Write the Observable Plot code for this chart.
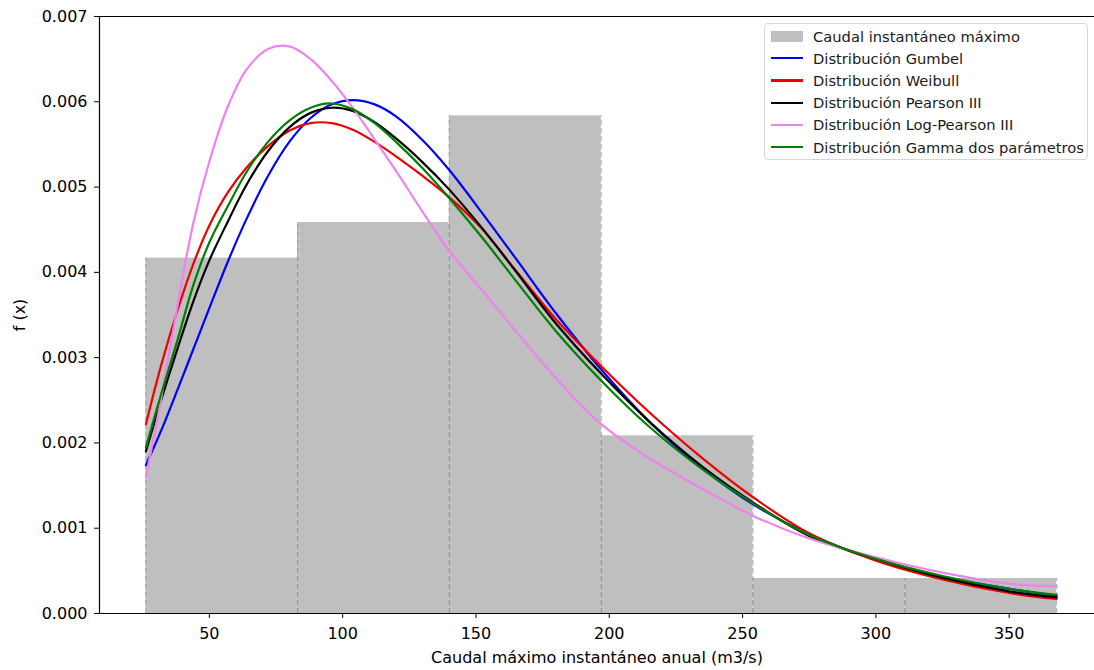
<!DOCTYPE html>
<html><head><meta charset="utf-8">
<script src="https://cdn.jsdelivr.net/npm/d3@7"></script>
<script src="https://cdn.jsdelivr.net/npm/@observablehq/plot@0.6"></script>
<style>
body{margin:0;background:#fff;font-family:"DejaVu Sans",sans-serif;}
#wrap{position:relative;width:1094px;height:670px;overflow:hidden;}
#legend{position:absolute;left:764px;top:23px;width:324px;height:137px;border:1px solid #d6d6d6;border-radius:4px;background:rgba(255,255,255,0.85);box-sizing:border-box;padding-top:1px;}
.row{height:22.2px;display:flex;align-items:center;font-size:14.7px;color:#1a1a1a;white-space:nowrap;}
.h{width:32px;margin-left:6px;margin-right:10px;flex:none;}
</style></head><body><div id="wrap"><div id="chart"></div><div id="legend"></div></div>
<script>
// Histogram (density)
const binEdges = [26.2, 83.1, 140.0, 197.0, 253.9, 310.9, 367.8];
const density = [0.004167, 0.004584, 0.005835, 0.002083, 0.00041, 0.00041];

// Curve sample positions and values
const xs = [26.2, 32, 38, 44, 50, 57, 64, 72, 80, 88, 96, 104, 112, 120, 130, 140, 152, 165, 180, 197, 215, 235, 255, 275, 300, 325, 350, 367.8];
const gumbel = [0.00174, 0.00215, 0.00262, 0.00310, 0.00358, 0.00413, 0.00463, 0.00513, 0.00553, 0.00581, 0.00597, 0.00602, 0.00597, 0.00583, 0.00555, 0.00520, 0.00471, 0.00416, 0.00352, 0.00286, 0.00225, 0.00170, 0.00126, 0.00093, 0.00063, 0.00043, 0.00029, 0.00021];
const weibull = [0.00222, 0.00292, 0.00355, 0.00410, 0.00455, 0.00494, 0.00523, 0.00548, 0.00566, 0.00575, 0.00575, 0.00567, 0.00553, 0.00536, 0.00513, 0.00488, 0.00452, 0.00402, 0.00345, 0.00290, 0.00236, 0.00182, 0.00134, 0.00094, 0.00062, 0.00040, 0.00024, 0.00017];
const pearson3 = [0.00190, 0.00251, 0.00310, 0.00366, 0.00414, 0.00460, 0.00503, 0.00542, 0.00570, 0.00587, 0.00593, 0.00589, 0.00576, 0.00557, 0.00529, 0.00497, 0.00453, 0.00401, 0.00340, 0.00281, 0.00225, 0.00172, 0.00128, 0.00091, 0.00064, 0.00042, 0.00026, 0.00019];
const logPearson3 = [0.00160, 0.00253, 0.00360, 0.00458, 0.00530, 0.00595, 0.00638, 0.00662, 0.00665, 0.00650, 0.00624, 0.00592, 0.00556, 0.00519, 0.00471, 0.00425, 0.00380, 0.00331, 0.00276, 0.00222, 0.00182, 0.00146, 0.00113, 0.00088, 0.00066, 0.00048, 0.00035, 0.00032];
const gamma2 = [0.00195, 0.00258, 0.00320, 0.00385, 0.00435, 0.00478, 0.00518, 0.00553, 0.00578, 0.00593, 0.00598, 0.00591, 0.00575, 0.00553, 0.00522, 0.00487, 0.00442, 0.00390, 0.00331, 0.00273, 0.00219, 0.00169, 0.00127, 0.00092, 0.00064, 0.00044, 0.00029, 0.00022];

const histName = "Caudal instantáneo máximo";
const seriesNames = ["Distribución Gumbel", "Distribución Weibull", "Distribución Pearson III", "Distribución Log-Pearson III", "Distribución Gamma dos parámetros"];
const seriesValues = [gumbel, weibull, pearson3, logPearson3, gamma2];
const seriesColors = ["#0000ff", "#ee0000", "#000000", "#ee82ee", "#007f00"];
const xTicks = [50, 100, 150, 200, 250, 300, 350];
const yTicks = [0, 0.001, 0.002, 0.003, 0.004, 0.005, 0.006, 0.007];
const xDomain = [8.8, 382];
const yDomain = [0, 0.007];

const bins = density.map((d, i) => ({x1: binEdges[i], x2: binEdges[i + 1], y: d}));
const edgeRules = bins.flatMap(b => [{x: b.x1, y: b.y}, {x: b.x2, y: b.y}]);

const lineMarks = seriesValues.map((vals, k) =>
  Plot.line(xs.map((x, i) => ({x, y: vals[i]})), {x: "x", y: "y", stroke: seriesColors[k], strokeWidth: 2.2, curve: "catmull-rom"})
);

const chart = Plot.plot({
  width: 1094, height: 670,
  marginLeft: 99, marginRight: 0, marginTop: 16, marginBottom: 57,
  style: {fontFamily: "DejaVu Sans", fontSize: "16px", color: "#000", background: "transparent"},
  x: {domain: xDomain},
  y: {domain: yDomain},
  marks: [
    Plot.rectY(bins, {x1: "x1", x2: "x2", y: "y", fill: "#bfbfbf"}),
    Plot.ruleX(edgeRules, {x: "x", y1: 0, y2: "y", stroke: "#8f8f8f", strokeDasharray: "5,3", strokeWidth: 1, strokeOpacity: 0.7}),
    ...lineMarks,
    Plot.ruleY([yDomain[0], yDomain[1]], {stroke: "#000", strokeWidth: 1.2}),
    Plot.ruleX([xDomain[0]], {stroke: "#000", strokeWidth: 1.2}),
    Plot.axisX({ticks: xTicks, tickSize: 5, tickPadding: 9, tickFormat: d3.format("d"), label: "Caudal máximo instantáneo anual (m3/s)", labelAnchor: "center", labelArrow: "none", labelOffset: 49}),
    Plot.axisY({ticks: yTicks, tickSize: 5, tickPadding: 7, tickFormat: d3.format(".3f"), label: "f (x)", labelAnchor: "center", labelArrow: "none", labelOffset: 86})
  ]
});
document.getElementById("chart").appendChild(chart);

// Legend
const legend = document.getElementById("legend");
const mkRow = (handleHtml, text) => {
  const r = document.createElement("div");
  r.className = "row";
  r.innerHTML = handleHtml + "<span></span>";
  r.querySelector("span").textContent = text;
  legend.appendChild(r);
};
mkRow('<div class="h" style="height:11px;background:#bfbfbf"></div>', histName);
seriesNames.forEach((n, k) => mkRow(`<div class="h" style="height:2.2px;background:${seriesColors[k]}"></div>`, n));
</script></body></html>
